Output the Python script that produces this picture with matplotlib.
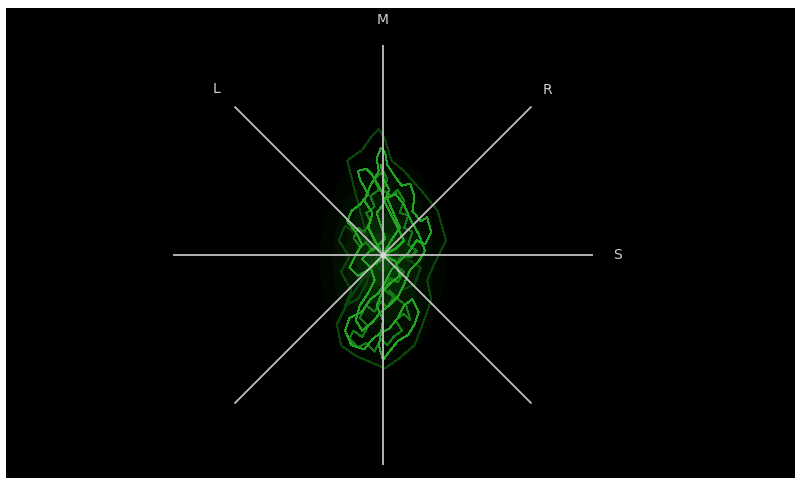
import matplotlib
matplotlib.use("Agg")
import matplotlib.pyplot as plt
import numpy as np

# Goniometer trace: side (x) and mid (y) amplitudes, full scale = 1.0
trace_side = [0.00, -0.04, -0.07, -0.05, -0.09, -0.06, -0.02, -0.03, -0.01, 0.01,
              0.02, 0.06, 0.09, 0.13, 0.15, 0.14, 0.18, 0.21, 0.23, 0.20,
              0.16, 0.12, 0.08, 0.04, 0.01, -0.02, -0.06, -0.10, -0.16, -0.18,
              -0.15, -0.09, -0.05, -0.01, 0.03, 0.07, 0.10, 0.14, 0.17, 0.15,
              0.12, 0.07, 0.03, 0.00, -0.02, 0.00, -0.03, 0.00, 0.04, 0.08,
              0.06, 0.02, -0.02, -0.07, -0.12, -0.16, -0.13, -0.10, -0.13, -0.17,
              -0.15, -0.11, -0.07, -0.11, -0.12, -0.08, -0.05, -0.01, 0.01, 0.04,
              0.07, 0.10, 0.06, 0.02, 0.00, 0.04, 0.08, 0.05, 0.02, 0.06,
              0.10, 0.13, 0.17, 0.20, 0.17, 0.13, 0.10, 0.07, 0.03, -0.01,
              -0.05, -0.10, -0.13, -0.11, -0.07, -0.04, -0.06, -0.10, -0.06, -0.02,
              0.01, -0.01, -0.03, 0.00, 0.03, 0.00, -0.01]
trace_mid = [0.00, 0.07, 0.13, 0.20, 0.26, 0.33, 0.40, 0.46, 0.51, 0.49,
             0.43, 0.37, 0.33, 0.34, 0.28, 0.21, 0.16, 0.18, 0.11, 0.05,
             0.07, 0.01, -0.03, -0.07, -0.13, -0.18, -0.21, -0.27, -0.30, -0.36,
             -0.43, -0.45, -0.40, -0.37, -0.35, -0.30, -0.24, -0.21, -0.27, -0.33,
             -0.38, -0.41, -0.46, -0.50, -0.43, -0.31, -0.24, -0.17, -0.13, -0.10,
             -0.03, -0.01, -0.03, -0.07, -0.10, -0.06, 0.00, 0.05, 0.11, 0.16,
             0.21, 0.24, 0.29, 0.36, 0.40, 0.41, 0.38, 0.31, 0.25, 0.19,
             0.13, 0.07, 0.03, 0.01, 0.00, 0.07, 0.13, 0.20, 0.27, 0.29,
             0.24, 0.17, 0.10, 0.02, -0.03, -0.07, -0.14, -0.20, -0.24, -0.27,
             -0.32, -0.36, -0.31, -0.24, -0.18, -0.12, -0.06, -0.02, 0.02, 0.05,
             0.08, 0.14, 0.20, 0.24, 0.31, 0.37, 0.43]

# Preceding block of samples, slightly faded
prev_side = [0.00, -0.03, -0.05, -0.08, -0.11, -0.14, -0.12, -0.09, -0.06, -0.08,
             -0.04, -0.06, -0.02, -0.04, 0.00, 0.02, 0.00, 0.04, 0.07, 0.10,
             0.08, 0.12, 0.10, 0.14, 0.12, 0.16, 0.13, 0.09, 0.06, 0.10,
             0.07, 0.03, 0.01, 0.05, 0.02, -0.01, -0.04, -0.08, -0.11, -0.07,
             -0.10, -0.14, -0.16, -0.12, -0.08, -0.04, -0.01, 0.02, 0.05, 0.09,
             0.06, 0.10, 0.13, 0.11, 0.07, 0.03]
prev_mid = [0.00, 0.04, 0.02, 0.06, 0.04, 0.08, 0.13, 0.11, 0.16, 0.20,
            0.23, 0.28, 0.31, 0.36, 0.40, 0.36, 0.31, 0.28, 0.31, 0.26,
            0.20, 0.19, 0.13, 0.11, 0.05, 0.02, -0.01, 0.00, -0.05, -0.08,
            -0.13, -0.11, -0.17, -0.20, -0.25, -0.22, -0.27, -0.24, -0.30, -0.34,
            -0.39, -0.36, -0.40, -0.44, -0.42, -0.46, -0.40, -0.43, -0.39, -0.36,
            -0.31, -0.28, -0.31, -0.24, -0.21, -0.17]

# Older, fading trace
trail_side = [0.00, -0.10, -0.18, -0.21, -0.16, -0.20, -0.15, -0.18, -0.12, -0.08,
              -0.05, -0.09, -0.13, -0.17, -0.10, -0.05, -0.02, 0.01, 0.04, 0.10,
              0.18, 0.26, 0.30, 0.25, 0.21, 0.23, 0.20, 0.15, 0.08, 0.01,
              -0.06, -0.13, -0.20, -0.22, -0.16, -0.10, -0.04, 0.03, 0.10, 0.18,
              0.15, 0.08]
trail_mid = [0.00, 0.08, 0.14, 0.07, -0.01, -0.08, -0.17, -0.24, -0.21, -0.14,
             -0.03, 0.14, 0.29, 0.45, 0.50, 0.57, 0.60, 0.55, 0.45, 0.40,
             0.31, 0.21, 0.07, -0.03, -0.12, -0.21, -0.30, -0.43, -0.49, -0.54,
             -0.51, -0.48, -0.43, -0.33, -0.21, -0.12, -0.06, -0.03, -0.01, -0.06,
             -0.14, -0.17]

# Axis labels and their directions (degrees from the +S axis)
axis_labels = ["M", "S", "L", "R"]
axis_angles = [90, 0, 135, 45]

fig = plt.figure(figsize=(7.95, 4.78), dpi=100, facecolor="white")
ax = fig.add_axes([6 / 795, 0, 789 / 795, 470 / 478])
ax.set_facecolor("black")
ax.set_xlim(-377 / 210, 412 / 210)
ax.set_ylim(-223 / 210, 247 / 210)
ax.set_aspect("equal")
ax.axis("off")
ax.add_patch(plt.Rectangle((0, 0), 1, 1, transform=ax.transAxes,
                           facecolor="black", edgecolor="none", zorder=0))

# Green haze around the centre, stretched along the M axis
for w, h, a in [(0.60, 1.00, 0.04), (0.48, 0.82, 0.06), (0.36, 0.62, 0.08),
                (0.26, 0.44, 0.11), (0.16, 0.26, 0.15), (0.08, 0.12, 0.2)]:
    ax.add_patch(matplotlib.patches.Ellipse((0, -0.02), w, h, facecolor="#1f9a1f",
                                            alpha=a, lw=0, zorder=1))

# Faint history
ax.plot(trail_side, trail_mid, color="#0b440b", lw=0.72, zorder=1,
        antialiased=False)

ax.plot(prev_side, prev_mid, color="#167816", lw=0.72, zorder=2,
        antialiased=False)

# Current trace
ax.plot(trace_side, trace_mid, color="#22a422", lw=0.72, zorder=2,
        antialiased=False)

# Reference axes
line_col = "#c0c0c0"
for ang in [90, 0, 45, 135]:
    t = np.deg2rad(ang)
    ax.plot([-np.cos(t), np.cos(t)], [-np.sin(t), np.sin(t)],
            color=line_col, lw=1.3, zorder=3, solid_capstyle="butt")

label_radius = {"M": 1.12, "S": 1.115, "L": 1.12, "R": 1.11}
for lab, ang in zip(axis_labels, axis_angles):
    t = np.deg2rad(ang)
    r = label_radius[lab]
    ax.text(r * np.cos(t), r * np.sin(t), lab, color="#d0d0d0",
            fontsize=10, ha="center", va="center", zorder=4)

ax.scatter([0], [0], s=18, color="#e0e0e0", alpha=0.8, lw=0, zorder=4)

fig.savefig("out.png", dpi=100, facecolor="white")
